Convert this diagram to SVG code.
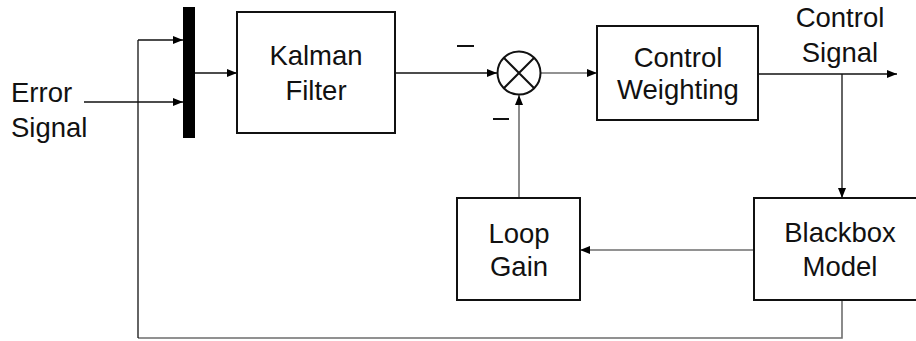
<svg xmlns="http://www.w3.org/2000/svg" width="916" height="341" viewBox="0 0 916 341">
<style>
.box{fill:#fff;stroke:#111;stroke-width:2}
.t{font-family:"Liberation Sans",Arial,sans-serif;font-size:27.5px;fill:#111;text-anchor:middle}
.tl{font-family:"Liberation Sans",Arial,sans-serif;font-size:27.5px;fill:#111}
.c{fill:none;stroke:#111;stroke-width:1.3}
.g{fill:none;stroke:#6e6e6e;stroke-width:1.6}
</style>
<defs>
<marker id="ah" markerWidth="10" markerHeight="8" refX="10" refY="4" orient="auto" markerUnits="userSpaceOnUse">
<path d="M0,0 L10,4 L0,8 Z" fill="#000"/>
</marker>
</defs>
<g id="connectors">
<path class="c" d="M138,40 H183" marker-end="url(#ah)"/>
<path class="c" d="M84,102 H183" marker-end="url(#ah)"/>
<path class="c" d="M195,73 H237" marker-end="url(#ah)"/>
<path class="c" d="M395,73 H497" marker-end="url(#ah)"/>
<path class="g" d="M541,73 H597" marker-end="url(#ah)"/>
<path class="c" d="M758,74 H897" marker-end="url(#ah)"/>
<path class="c" d="M842,74 V198" marker-end="url(#ah)"/>
<path class="g" d="M754,250 H580" marker-end="url(#ah)"/>
<path class="g" d="M519,198 V95" marker-end="url(#ah)"/>
<path class="g" d="M842,300 V338 H138"/>
<path class="c" d="M138,338 V40"/>
</g>
<g id="mux"><rect x="183" y="7" width="12" height="131" fill="#000"/></g>
<g id="error-signal">
<text class="tl" x="11" y="102">Error</text>
<text class="tl" x="11" y="137">Signal</text>
</g>
<g id="kalman-filter">
<rect class="box" x="237" y="12" width="158" height="121"/>
<text class="t" x="316" y="65">Kalman</text>
<text class="t" x="316" y="100">Filter</text>
</g>
<g id="sum">
<circle cx="519" cy="73" r="21.5" fill="#fff" stroke="#111" stroke-width="2"/>
<path d="M503.8,57.8 L534.2,88.2 M534.2,57.8 L503.8,88.2" stroke="#111" stroke-width="2"/>
<path d="M457,46 H474 M493,119 H509" stroke="#111" stroke-width="2"/>
</g>
<g id="control-weighting">
<rect class="box" x="597" y="26" width="161" height="94"/>
<text class="t" x="678" y="67">Control</text>
<text class="t" x="678" y="99">Weighting</text>
</g>
<g id="control-signal">
<text class="t" x="840" y="27">Control</text>
<text class="t" x="840" y="62">Signal</text>
</g>
<g id="blackbox-model">
<rect class="box" x="754" y="198" width="172" height="102"/>
<text class="t" x="840" y="242">Blackbox</text>
<text class="t" x="840" y="276">Model</text>
</g>
<g id="loop-gain">
<rect class="box" x="457" y="198" width="123" height="102"/>
<text class="t" x="519" y="243">Loop</text>
<text class="t" x="519" y="276">Gain</text>
</g>
</svg>
